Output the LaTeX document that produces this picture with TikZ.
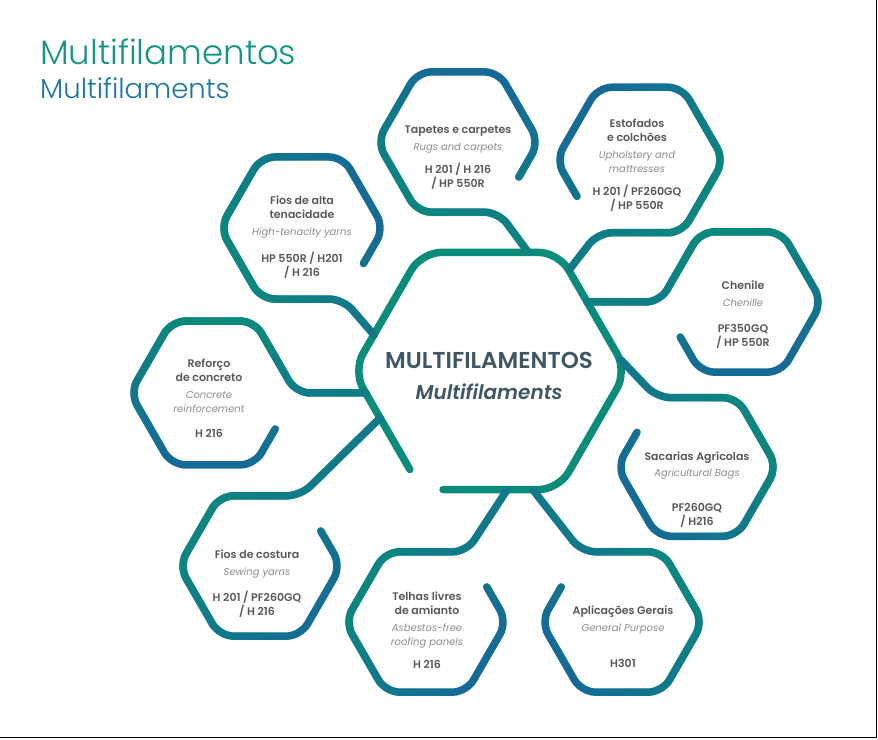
\documentclass[tikz,border=0pt]{standalone}
\usepackage{fontspec}
\setmainfont{Poppins}[BoldFont={Poppins SemiBold}, BoldItalicFont={Poppins SemiBold Italic}]
\newfontfamily\titlefont{Poppins Light}
\usetikzlibrary{calc,fadings}

\definecolor{hexteal}{RGB}{10,140,122}
\definecolor{hexblue}{RGB}{22,106,152}
\definecolor{titleteal}{RGB}{22,150,130}
\definecolor{titleblue}{RGB}{28,118,160}
\definecolor{ctrtext}{RGB}{62,86,102}
\definecolor{labgray}{RGB}{88,88,90}
\definecolor{enggray}{RGB}{140,140,140}

\tikzset{
  hexline/.style={draw=hexblue, line width=7.5pt, line cap=round, rounded corners=14pt,
    postaction={draw=hexteal, path fading=east, fading angle=#1}},
  ctrline/.style={draw=hexteal, line width=7.5pt, line cap=round, rounded corners=20pt},
  lbl/.style={align=center, inner sep=0pt, text=labgray, font=\fontsize{11}{14}\selectfont},
}
\newcommand{\eng}[1]{{\fontsize{10}{14}\selectfont\itshape\color{enggray}#1}}

\begin{document}
\begin{tikzpicture}[x=1pt, y=1pt]
\useasboundingbox (0,0) rectangle (878,739);

% title
\node[anchor=base west, inner sep=0pt, text=titleteal, font=\titlefont\fontsize{34}{40}\selectfont] (title) at (40,674) {Multifilamentos};
\node[anchor=base west, inner sep=0pt, text=titleblue, font=\titlefont\fontsize{27.5}{32}\selectfont] (subtitle) at (40,640) {Multifilaments};

% centres of the hexagons
\coordinate (ctr) at (490,368);
\coordinate (tap) at (458,597);
\coordinate (est) at (640,579);
\coordinate (alta) at (302,511);
\coordinate (chen) at (741,437);
\coordinate (sac) at (697,272);
\coordinate (ref) at (213,346);
\coordinate (cos) at (260,173);
\coordinate (tel) at (426,117);
\coordinate (apl) at (622,117);

% where the branches leave the central hexagon
\coordinate (c-tap) at (528,487);
\coordinate (c-est) at (569,469);
\coordinate (c-chen) at (587,437);
\coordinate (c-sac) at (621,379);
\coordinate (c-alta) at (374,404);
\coordinate (c-ref) at (366,346);
\coordinate (c-cos) at (380,321);
\coordinate (c-tel) at (507,249);
\coordinate (c-apl) at (533,249);

% central hexagon
\draw[ctrline, shift={(ctr)}] (-47,-118.6) -- (300:137) -- (0:137) -- (60:137) -- (120:137) -- (180:137) -- ($(180:137)!.83!(240:137)$);

% branches
\draw[hexline=70, shift={(tap)}] (c-tap) -- (300:81) -- (240:81) -- (180:81) -- (120:81) -- (60:81) -- (0:81) -- ($(0:81)!.5!(300:81)$);
\draw[hexline=135, shift={(est)}] (c-est) -- (240:84) -- (300:84) -- (0:84) -- (60:84) -- (120:84) -- (180:84) -- ($(180:84)!.5!(240:84)$);
\draw[hexline=30, shift={(alta)}] (c-alta) -- (300:82) -- (240:82) -- (180:82) -- (120:82) -- (60:82) -- (0:82) -- ($(0:82)!.5!(300:82)$);
\draw[hexline=290, shift={(chen)}] (c-chen) -- (180:81) -- (120:81) -- (60:81) -- (0:81) -- (300:81) -- (240:81) -- ($(240:81)!.5!(180:81)$);
\draw[hexline=215, shift={(sac)}] (c-sac) -- (120:80) -- (60:80) -- (0:80) -- (300:80) -- (240:80) -- (180:80) -- ($(180:80)!.5!(120:80)$);
\draw[hexline=260, shift={(ref)}] (c-ref) -- (0:83) -- (60:83) -- (120:83) -- (180:83) -- (240:83) -- (300:83) -- ($(300:83)!.5!(0:83)$);
\draw[hexline=320, shift={(cos)}] (c-cos) -- (60:81) -- (120:81) -- (180:81) -- (240:81) -- (300:81) -- (0:81) -- ($(0:81)!.5!(60:81)$);
\draw[hexline=320, shift={(tel)}] (c-tel) -- (60:81) -- (120:81) -- (180:81) -- (240:81) -- (300:81) -- (0:81) -- ($(0:81)!.5!(60:81)$);
\draw[hexline=220, shift={(apl)}] (c-apl) -- (120:81) -- (60:81) -- (0:81) -- (300:81) -- (240:81) -- (180:81) -- ($(180:81)!.5!(120:81)$);

% texts
\node[align=center, inner sep=0pt, text=ctrtext] (ctr-txt) at (489,363) {{\fontsize{23}{30}\selectfont\bfseries MULTIFILAMENTOS}\\[14pt]{\fontsize{20}{26}\selectfont\bfseries\itshape Multifilaments}};

\node[lbl] (tap-txt) at (458,581) {\textbf{Tapetes e carpetes}\\[3pt]\eng{Rugs and carpets}\\[9pt]\textbf{H 201 / H 216}\\\textbf{/ HP 550R}};
\node[lbl] (est-txt) at (637,574) {\textbf{Estofados}\\\textbf{e colchões}\\[3pt]\eng{Upholstery and}\\\eng{mattresses}\\[9pt]\textbf{H 201 / PF260GQ}\\\textbf{/ HP 550R}};
\node[lbl] (alta-txt) at (302,502) {\textbf{Fios de alta}\\\textbf{tenacidade}\\[3pt]\eng{High-tenacity yarns}\\[13pt]\textbf{HP 550R / H201}\\\textbf{/ H 216}};
\node[lbl] (chen-txt) at (743,424) {\textbf{Chenile}\\[3pt]\eng{Chenille}\\[12pt]\textbf{PF350GQ}\\\textbf{/ HP 550R}};
\node[lbl] (sac-txt) at (697,249) {\textbf{Sacarias Agrícolas}\\[2pt]\eng{Agricultural Bags}\\[21pt]\textbf{PF260GQ}\\\textbf{/ H216}};
\node[lbl] (ref-txt) at (209,341) {\textbf{Reforço}\\\textbf{de concreto}\\[3pt]\eng{Concrete}\\\eng{reinforcement}\\[11pt]\textbf{H 216}};
\node[lbl] (cos-txt) at (257,155) {\textbf{Fios de costura}\\[3pt]\eng{Sewing yarns}\\[12pt]\textbf{H 201 / PF260GQ}\\\textbf{/ H 216}};
\node[lbl] (tel-txt) at (427,109) {\textbf{Telhas livres}\\\textbf{de amianto}\\[3pt]\eng{Asbestos-free}\\\eng{roofing panels}\\[9pt]\textbf{H 216}};
\node[lbl] (apl-txt) at (623,102) {\textbf{Aplicações Gerais}\\[3pt]\eng{General Purpose}\\[22pt]\textbf{H301}};

% frame on the right and at the bottom
\draw[black, line width=1.3pt] (0,1.5) -- (876.5,1.5) -- (876.5,739);
\end{tikzpicture}
\end{document}
